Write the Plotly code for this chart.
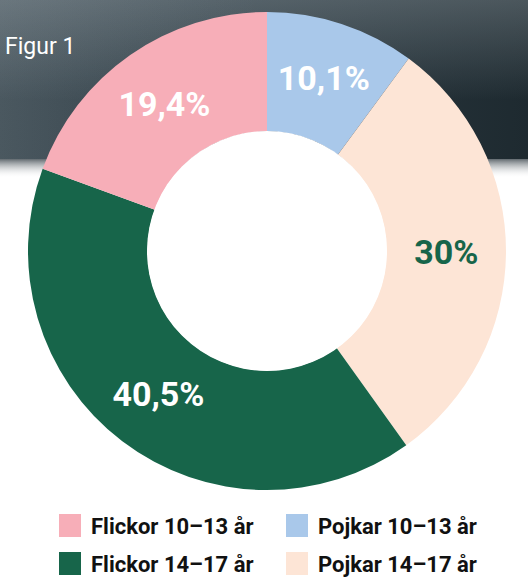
import plotly.graph_objects as go

# ---- data ----
slice_labels = ["Pojkar 10–13 år", "Pojkar 14–17 år", "Flickor 14–17 år", "Flickor 10–13 år"]
slice_values = [10.1, 30.0, 40.5, 19.4]
legend_labels = ["Flickor 10–13 år", "Pojkar 10–13 år", "Flickor 14–17 år", "Pojkar 14–17 år"]

colors = {
    "Flickor 10–13 år": "#F7AEB8",
    "Pojkar 10–13 år": "#A9C8EA",
    "Flickor 14–17 år": "#17654A",
    "Pojkar 14–17 år": "#FDE5D6",
}
text_colors = {
    "Flickor 10–13 år": "#FFFFFF",
    "Pojkar 10–13 år": "#FFFFFF",
    "Flickor 14–17 år": "#FFFFFF",
    "Pojkar 14–17 år": "#17654A",
}

def fmt(v):
    return f"{v:g}".replace(".", ",") + "%"

W, H = 528, 580
FONT = "Roboto"

fig = go.Figure()

# dark header background with gradient
fig.add_trace(go.Scatter(
    x=[0, W, W, 0, 0], y=[0, 0, 159, 159, 0],
    fill="toself", mode="lines", line=dict(width=0),
    fillgradient=dict(type="horizontal",
                      colorscale=[[0, "#3c4a52"], [0.4, "#2e3c44"], [1, "#1e2a30"]]),
    hoverinfo="skip", showlegend=False,
))
# lighter haze at the top
fig.add_trace(go.Scatter(
    x=[0, W, W, 0, 0], y=[0, 0, 100, 100, 0],
    fill="toself", mode="lines", line=dict(width=0),
    fillgradient=dict(type="vertical",
                      colorscale=[[0, "rgba(180,190,196,0)"], [1, "rgba(180,190,196,0.30)"]]),
    hoverinfo="skip", showlegend=False,
))
# left haze
fig.add_trace(go.Scatter(
    x=[0, 260, 260, 0, 0], y=[0, 0, 159, 159, 0],
    fill="toself", mode="lines", line=dict(width=0),
    fillgradient=dict(type="horizontal",
                      colorscale=[[0, "rgba(180,190,196,0.12)"], [1, "rgba(180,190,196,0)"]]),
    hoverinfo="skip", showlegend=False,
))
# rough transition band
fig.add_trace(go.Scatter(
    x=[0, W, W, 0, 0], y=[159, 159, 178, 178, 159],
    fill="toself", mode="lines", line=dict(width=0),
    fillgradient=dict(type="vertical",
                      colorscale=[[0, "rgba(255,255,255,0)"], [0.6, "rgba(150,156,160,0.55)"],
                                  [1, "rgba(70,80,86,0.85)"]]),
    hoverinfo="skip", showlegend=False,
))

cx, cy, r = 267, 251, 239
hole = 0.5
fig.add_trace(go.Pie(
    labels=slice_labels,
    values=slice_values,
    sort=False,
    direction="clockwise",
    rotation=0,
    hole=hole,
    marker=dict(colors=[colors[l] for l in slice_labels], line=dict(width=0)),
    text=[fmt(v) for v in slice_values],
    textinfo="text",
    textposition="inside",
    insidetextorientation="horizontal",
    textfont=dict(family=FONT, size=34, weight="bold",
                  color=[text_colors[l] for l in slice_labels]),
    hoverinfo="skip",
    showlegend=False,
    domain=dict(x=[(cx - r) / W, (cx + r) / W],
                y=[1 - (cy + r) / H, 1 - (cy - r) / H]),
))

# white centre of the donut
rh = r * hole + 0.5
shapes = [dict(type="circle", xref="x", yref="y", layer="above",
               x0=cx - rh, x1=cx + rh, y0=cy - rh, y1=cy + rh,
               fillcolor="#FFFFFF", line=dict(width=0))]

# manual legend
annotations = []
col_x = [59, 286]
row_y = [526, 564]
for i, lab in enumerate(legend_labels):
    x0 = col_x[i % 2]
    yc = row_y[i // 2]
    shapes.append(dict(type="rect", xref="x", yref="y",
                       x0=x0, x1=x0 + 22, y0=yc - 12, y1=yc + 11,
                       fillcolor=colors[lab], line=dict(width=0)))
    annotations.append(dict(x=x0 + 30, y=yc, xref="x", yref="y",
                            text=f"<b>{lab}</b>", showarrow=False,
                            xanchor="left", yanchor="middle",
                            font=dict(family=FONT, size=22, color="#111111")))

annotations.append(dict(x=3, y=46, xref="x", yref="y", text="Figur 1",
                        showarrow=False, xanchor="left", yanchor="middle",
                        font=dict(family=FONT, size=23, color="#FFFFFF")))

fig.update_layout(
    width=W, height=H,
    margin=dict(l=0, r=0, t=0, b=0),
    paper_bgcolor="#FFFFFF",
    plot_bgcolor="rgba(0,0,0,0)",
    xaxis=dict(range=[0, W], visible=False, fixedrange=True),
    yaxis=dict(range=[H, 0], visible=False, fixedrange=True),
    shapes=shapes,
    annotations=annotations,
    showlegend=False,
)

fig.write_html("out.html",
               config={"displayModeBar": False},
               post_script="document.body.style.margin='0';document.body.style.overflow='hidden';")
